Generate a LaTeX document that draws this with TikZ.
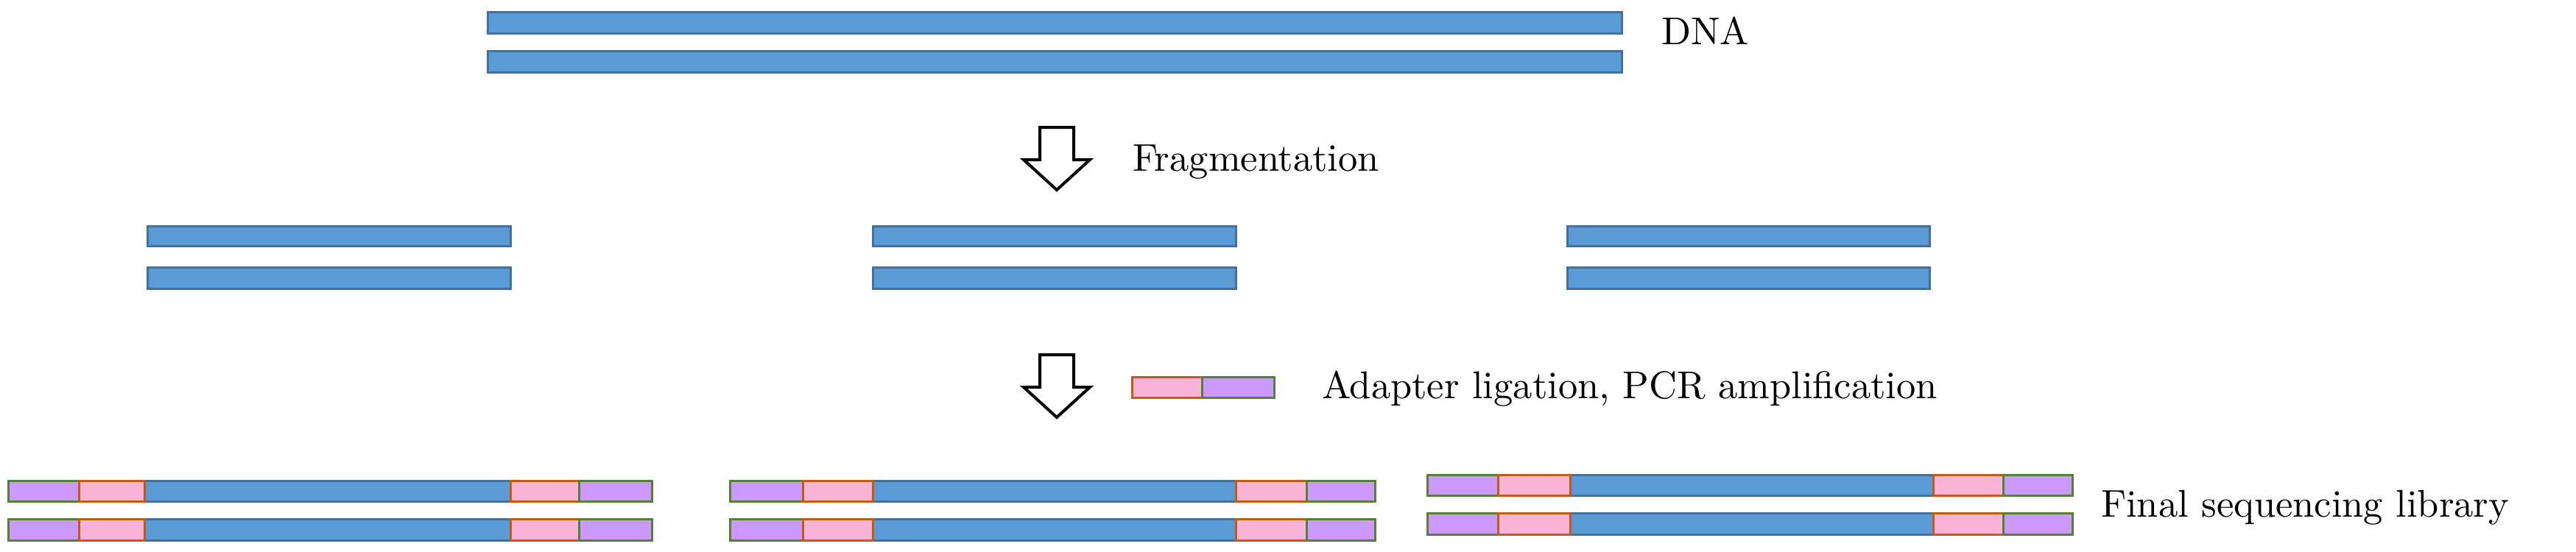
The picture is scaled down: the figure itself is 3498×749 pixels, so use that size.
\documentclass[tikz,border=0pt]{standalone}
\begin{document}
\begin{tikzpicture}[x=0.2pt,y=-0.2pt,
  dna/.style={fill={rgb,255:red,91;green,155;blue,213},draw={rgb,255:red,65;green,113;blue,156},line width=0.6pt},
  pk/.style={fill={rgb,255:red,250;green,180;blue,215},draw={rgb,255:red,197;green,90;blue,17},line width=0.6pt},
  pu/.style={fill={rgb,255:red,204;green,153;blue,255},draw={rgb,255:red,84;green,130;blue,53},line width=0.6pt},
  blk/.style={draw=black,fill=white,line width=0.8pt,line join=miter},
  lbl/.style={anchor=west,inner sep=0pt,font=\fontsize{10.5pt}{12pt}\selectfont}]
\useasboundingbox (0,0) rectangle (3498,749);
% DNA
\draw[dna] (662,16) rectangle (2202,45);
\draw[dna] (662,69) rectangle (2202,98);
\node[lbl] (dna) at (2255,42) {DNA};
% arrow 1
\draw[blk] (1412,173) -- (1458,173) -- (1458,217) -- (1480,217) -- (1435,258) -- (1390,217) -- (1412,217) -- cycle;
\node[lbl] (frag) at (1537,220) {Fragmentation};
% fragments
\foreach \a/\b in {200/693,1185/1678,2128/2620}{
  \draw[dna] (\a,307) rectangle (\b,334);
  \draw[dna] (\a,363) rectangle (\b,392);
}
% arrow 2
\draw[blk] (1412,482) -- (1458,482) -- (1458,526) -- (1480,526) -- (1435,567) -- (1390,526) -- (1412,526) -- cycle;
\draw[pk] (1537,512) rectangle (1632,540);
\draw[pu] (1632,512) rectangle (1730,540);
\node[lbl] (ad) at (1794,528) {Adapter ligation, PCR amplification};
% library
\foreach \p/\q/\r/\s/\t/\u/\dy in {11/107/196/693/786/885/0,991/1090/1185/1678/1774/1867/0,1938/2034/2132/2625/2720/2814/-8}{
  \foreach \yy/\hh in {653/681,705/734}{
    \draw[dna] (\r,\yy+\dy) rectangle (\s,\hh+\dy);
    \draw[pu] (\p,\yy+\dy) rectangle (\q,\hh+\dy);
    \draw[pk] (\q,\yy+\dy) rectangle (\r,\hh+\dy);
    \draw[pk] (\s,\yy+\dy) rectangle (\t,\hh+\dy);
    \draw[pu] (\t,\yy+\dy) rectangle (\u,\hh+\dy);
  }
}
\node[lbl] (fin) at (2852,690) {Final sequencing library};
\end{tikzpicture}
\end{document}
